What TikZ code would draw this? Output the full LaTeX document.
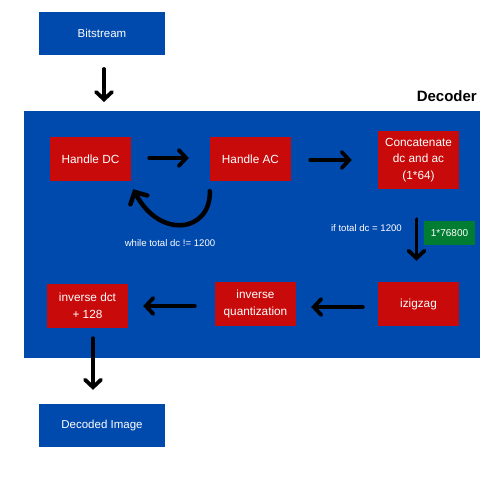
\documentclass[tikz,border=0pt]{standalone}
\usepackage{fontspec}
\setmainfont{Liberation Sans}
\usetikzlibrary{arrows.meta,calc}
\definecolor{dblue}{RGB}{0,74,173}
\definecolor{dred}{RGB}{200,10,10}
\definecolor{dgreen}{RGB}{0,125,50}
\tikzset{
  bluebox/.style={fill=dblue,text=white,inner sep=0pt,minimum width=126pt,minimum height=43pt,font=\fontsize{11.5}{14}\selectfont},
  redbox/.style={fill=dred,text=white,inner sep=0pt,minimum width=81pt,minimum height=44pt,align=center,font=\fontsize{11.8}{16.5}\selectfont},
  greenbox/.style={fill=dgreen,text=white,inner sep=0pt,minimum width=51pt,minimum height=24pt,font=\fontsize{10}{12}\selectfont},
  flow/.style={draw=black,line width=3.8pt,line cap=round,-{Straight Barb[length=7.5pt,width=16pt,line cap=round]}},
  loopflow/.style={draw=black,line width=4.5pt,line cap=round,-{Straight Barb[length=9pt,width=19pt,line cap=round]}},
  smalltxt/.style={text=white,inner sep=0pt,font=\fontsize{9.6}{11}\selectfont}
}
\begin{document}
\begin{tikzpicture}[x=1pt,y=-1pt]
\useasboundingbox (0,0) rectangle (500,500);
\fill[white] (0,0) rectangle (500,500);
\node[fill=dblue,inner sep=0pt,minimum width=456pt,minimum height=247pt] (decoder) at (252,234.5) {};
\node[anchor=south east,inner sep=0pt,font=\fontsize{15}{17}\selectfont\bfseries] (dlabel) at (477,102) {Decoder};
\node[bluebox] (bits) at (102,33.5) {Bitstream};
\node[bluebox] (out) at (102,425.5) {Decoded Image};
\node[redbox] (dc) at (90.5,159) {Handle DC};
\node[redbox] (ac) at (250.5,159) {Handle AC};
\node[redbox,minimum height=58pt] (cat) at (418.5,160) {Concatenate\\dc and ac\\(1*64)};
\node[redbox] (iz) at (418.5,304) {izigzag};
\node[redbox] (iq) at (255.5,304) {inverse\\quantization};
\node[redbox] (idct) at (87.5,306) {inverse dct\\+ 128};
\node[greenbox] (g) at (449.5,233) {1*76800};
\node[smalltxt] (wl) at (170,243) {while total dc != 1200};
\node[smalltxt,anchor=east] (il) at (402,228) {if total dc = 1200};

\coordinate (a1s) at (104,69);
\coordinate (a1e) at (104,102);
\draw[flow] (a1s) -- (a1e);
\draw[flow] ($(dc.east)+(18,-1)$) -- ($(ac.west)+(-21,-1)$);
\draw[flow] ($(ac.east)+(19,1)$) -- ($(cat.west)+(-26,0)$);
\draw[flow] ($(cat.south)+(-2,30)$) -- ($(iz.north)+(-2,-21)$);
\draw[flow] ($(iz.west)+(-15,3)$) -- ($(iq.east)+(15,3)$);
\draw[flow] ($(iq.west)+(-20,2)$) -- ($(idct.east)+(15,0)$);
\draw[flow] ($(idct.south)+(5.5,10)$) -- ($(out.north)+(-9,-14)$);
\draw[loopflow] ($(ac.south west)+(0,10)$) .. controls (211,232) and (160,240) .. ($(dc.south east)+(2,8)$);
\end{tikzpicture}
\end{document}
